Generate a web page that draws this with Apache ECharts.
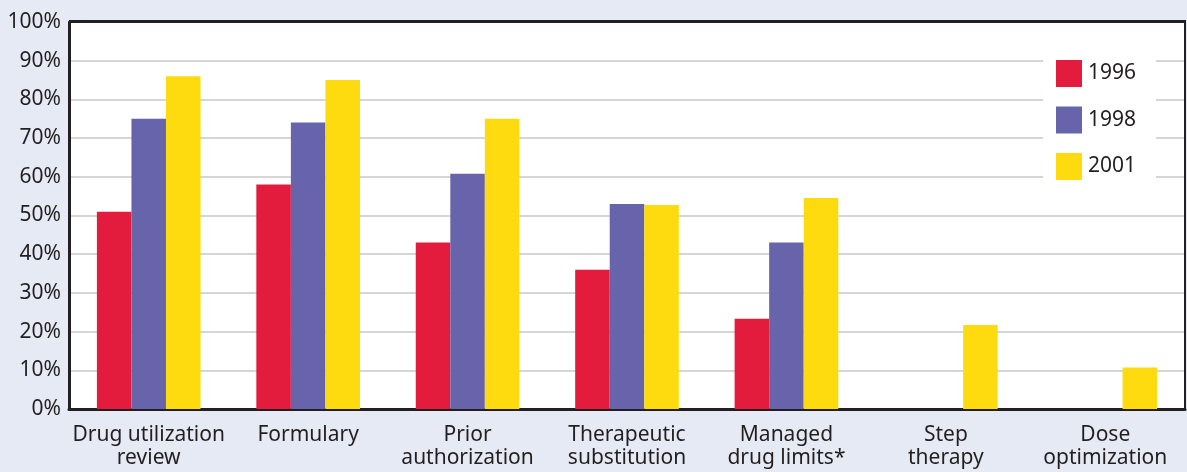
<!DOCTYPE html>
<html>
<head>
<meta charset="utf-8">
<script src="https://cdn.jsdelivr.net/npm/echarts@6/dist/echarts.min.js"></script>
<style>
  html, body { margin: 0; padding: 0; background: #e6eaf5; }
  #wrap { position: relative; width: 1187px; height: 472px; }
  #chart { width: 1187px; height: 472px; }
  /* dark rule along the top and right of the plot area */
  #frame {
    position: absolute; left: 69px; top: 20px; width: 1117px; height: 390px;
    box-sizing: border-box; border-top: 3px solid #231f20; border-right: 2px solid #231f20;
    pointer-events: none;
  }
</style>
</head>
<body>
<div id="wrap">
  <div id="chart"></div>
  <div id="frame"></div>
</div>
<script>
// Share of plans using each utilization-management tool, by survey year
const categories = [
  'Drug utilization\nreview',
  'Formulary',
  'Prior\nauthorization',
  'Therapeutic\nsubstitution',
  'Managed\ndrug limits*',
  'Step\ntherapy',
  'Dose\noptimization'
];
const years = ['1996', '1998', '2001'];
const values1996 = [51, 58, 43, 36, 23.3, null, null];
const values1998 = [75, 74, 60.8, 53, 43, null, null];
const values2001 = [86, 85, 75, 52.7, 54.5, 21.7, 10.7];
const yTicks = [0, 10, 20, 30, 40, 50, 60, 70, 80, 90, 100];

const colors = ['#e31c3d', '#6864ab', '#fedb0e'];
const textColor = '#231f20';
const font = '"Noto Sans", "Open Sans", sans-serif';
const labelSize = 21;

const seriesData = [values1996, values1998, values2001];

const chart = echarts.init(document.getElementById('chart'));
chart.setOption({
  backgroundColor: '#e6eaf5',
  animation: false,
  textStyle: { fontFamily: font, color: textColor },
  grid: {
    left: 69, right: 2, top: 22, bottom: 63,
    show: true,
    backgroundColor: '#ffffff',
    borderWidth: 0
  },
  legend: {
    data: years,
    orient: 'vertical',
    left: 1043,
    top: 49,
    backgroundColor: '#ffffff',
    padding: [11, 20, 11, 13],
    itemWidth: 26,
    itemHeight: 27,
    itemGap: 19.5,
    icon: 'rect',
    textStyle: { fontFamily: font, fontSize: labelSize, color: textColor, padding: [0, 0, 0, 1] }
  },
  xAxis: {
    type: 'category',
    data: categories,
    axisTick: { show: false },
    axisLine: { onZero: false, lineStyle: { color: textColor, width: 3 } },
    axisLabel: {
      fontFamily: font, fontSize: labelSize, color: textColor,
      lineHeight: 23, margin: 15, interval: 0
    }
  },
  yAxis: {
    type: 'value',
    min: yTicks[0],
    max: yTicks[yTicks.length - 1],
    interval: 10,
    axisLine: { show: true, onZero: false, lineStyle: { color: textColor, width: 3 } },
    axisTick: { show: false },
    splitLine: {
      showMinLine: false,
      showMaxLine: false,
      lineStyle: { color: '#d6d6d6', width: 2 }
    },
    axisLabel: {
      fontFamily: font, fontSize: labelSize, color: textColor, margin: 8,
      formatter: v => v + '%'
    }
  },
  series: years.map((y, i) => ({
    name: y,
    type: 'bar',
    data: seriesData[i],
    barGap: '0%',
    barCategoryGap: '35%',
    itemStyle: { color: colors[i] }
  }))
});
</script>
</body>
</html>
